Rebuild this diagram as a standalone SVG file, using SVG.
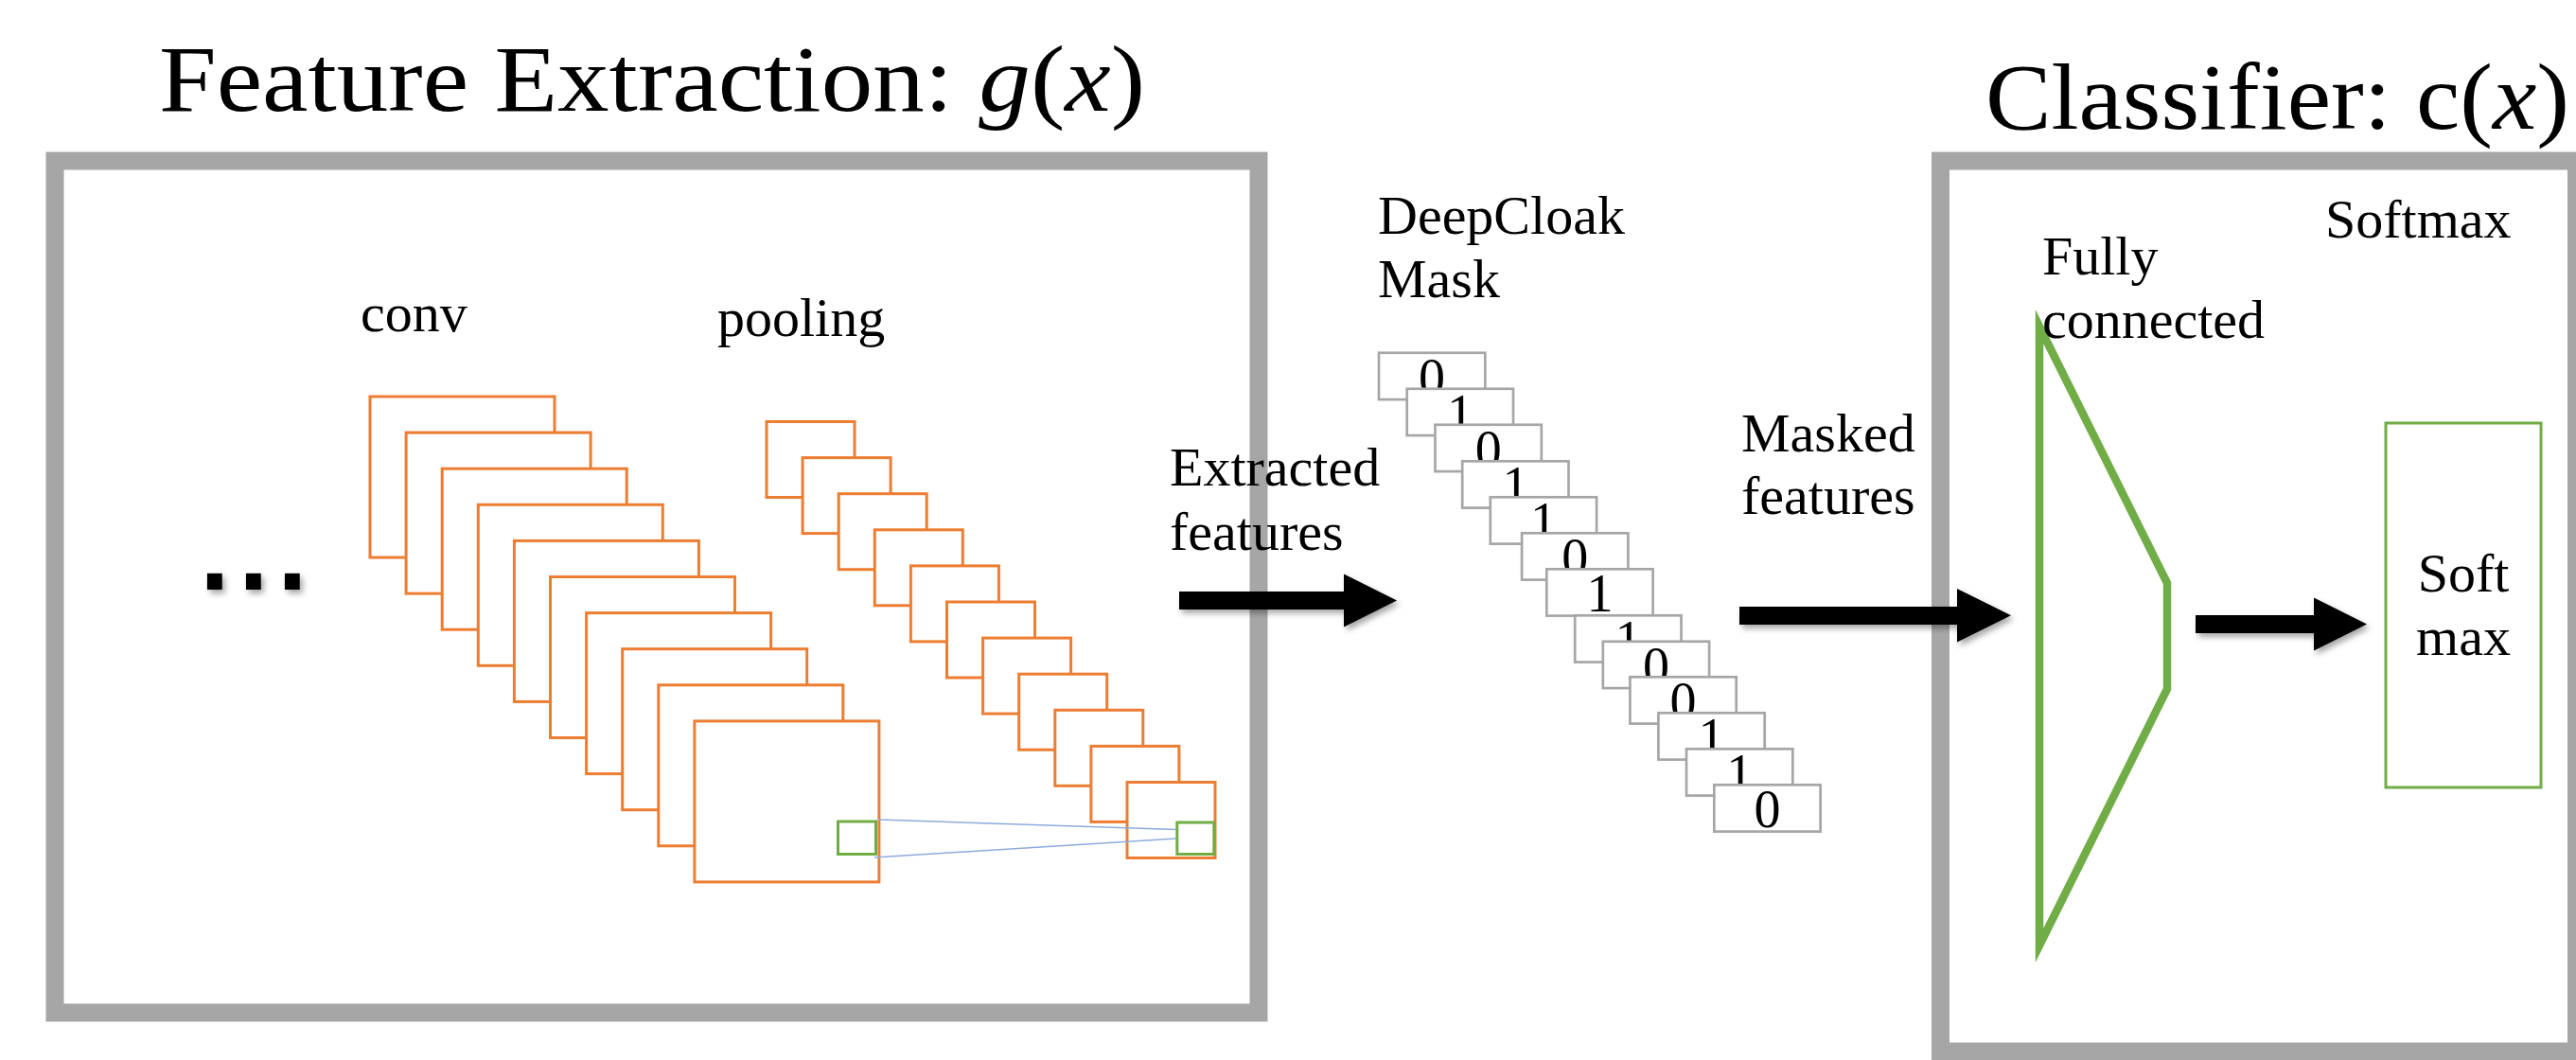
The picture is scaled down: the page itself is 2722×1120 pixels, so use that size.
<svg xmlns="http://www.w3.org/2000/svg" width="2722" height="1120" viewBox="0 0 2722 1120">
<defs>
<style>
.frame{fill:none;stroke:#A6A6A6;stroke-width:19}
.conv{fill:#fff;stroke:#ED7D31;stroke-width:3}
.pool{fill:#fff;stroke:#ED7D31;stroke-width:3}
.gsq{fill:none;stroke:#70AD47;stroke-width:3}
.mask{fill:#fff;stroke:#A6A6A6;stroke-width:2.7}
.lbl{font-family:"Liberation Serif","Times New Roman",serif;font-size:58px;fill:#000}
.dig{font-family:"Liberation Serif","Times New Roman",serif;font-size:56px;fill:#000;text-anchor:middle}
.title{font-family:"Liberation Serif","Times New Roman",serif;font-size:100px;fill:#000}
.arrow{fill:#000;filter:url(#sh)}
.link{stroke:#8FAADC;stroke-width:1.5;fill:none}
</style>
<filter id="sh" x="-20%" y="-50%" width="140%" height="200%">
<feDropShadow dx="3" dy="4" stdDeviation="3" flood-color="#000" flood-opacity="0.35"/>
</filter>
</defs>
<rect width="2722" height="1120" fill="#fff"/>

<g id="feature-extraction">
<text class="title" x="168" y="117" textLength="1042" lengthAdjust="spacingAndGlyphs">Feature Extraction: <tspan font-style="italic">g</tspan>(<tspan font-style="italic">x</tspan>)</text>
<rect class="frame" x="58" y="170" width="1272" height="900"/>
<text x="209.7" y="623" font-family="DejaVu Sans, sans-serif" font-weight="bold" font-size="90" letter-spacing="6.8" filter="url(#sh)">...</text>
</g>

<g id="conv-stack">
<text class="lbl" x="381" y="350">conv</text>
<rect class="conv" x="391" y="419" width="195" height="170"/>
<rect class="conv" x="429.1" y="457.1" width="195" height="170"/>
<rect class="conv" x="467.2" y="495.2" width="195" height="170"/>
<rect class="conv" x="505.3" y="533.3" width="195" height="170"/>
<rect class="conv" x="543.4" y="571.4" width="195" height="170"/>
<rect class="conv" x="581.5" y="609.5" width="195" height="170"/>
<rect class="conv" x="619.6" y="647.6" width="195" height="170"/>
<rect class="conv" x="657.7" y="685.7" width="195" height="170"/>
<rect class="conv" x="695.8" y="723.8" width="195" height="170"/>
<rect class="conv" x="733.9" y="761.9" width="195" height="170"/>
<rect class="gsq" x="885.5" y="868" width="40" height="34.5"/>
</g>

<g id="pooling-stack">
<text class="lbl" x="758" y="355">pooling</text>
<rect class="pool" x="810" y="445.5" width="93" height="80"/>
<rect class="pool" x="848.1" y="483.6" width="93" height="80"/>
<rect class="pool" x="886.2" y="521.7" width="93" height="80"/>
<rect class="pool" x="924.3" y="559.8" width="93" height="80"/>
<rect class="pool" x="962.4" y="597.9" width="93" height="80"/>
<rect class="pool" x="1000.5" y="636" width="93" height="80"/>
<rect class="pool" x="1038.6" y="674.1" width="93" height="80"/>
<rect class="pool" x="1076.7" y="712.2" width="93" height="80"/>
<rect class="pool" x="1114.8" y="750.3" width="93" height="80"/>
<rect class="pool" x="1152.9" y="788.4" width="93" height="80"/>
<rect class="pool" x="1191" y="826.5" width="93" height="80"/>
<rect class="gsq" x="1243.8" y="869" width="39" height="33.5"/>
</g>

<g id="deepcloak-mask">
<text class="lbl" x="1456" y="247">DeepCloak</text>
<text class="lbl" x="1456" y="314">Mask</text>
<rect class="mask" x="1457" y="372.8" width="112.3" height="49.3"/><text class="dig" x="1513" y="417.5">0</text>
<rect class="mask" x="1486.7" y="410.8" width="112.3" height="49.3"/><text class="dig" x="1542.9" y="455.5">1</text>
<rect class="mask" x="1516.5" y="448.8" width="112.3" height="49.3"/><text class="dig" x="1572.7" y="493.5">0</text>
<rect class="mask" x="1545.2" y="487.3" width="112.3" height="49.3"/><text class="dig" x="1601.4" y="532">1</text>
<rect class="mask" x="1574.8" y="525.3" width="112.3" height="49.3"/><text class="dig" x="1631" y="570">1</text>
<rect class="mask" x="1608.1" y="563.3" width="112.3" height="49.3"/><text class="dig" x="1664.3" y="608">0</text>
<rect class="mask" x="1634.3" y="601.3" width="112.3" height="49.3"/><text class="dig" x="1690.5" y="646">1</text>
<rect class="mask" x="1664.2" y="650.3" width="112.3" height="49.3"/><text class="dig" x="1720.4" y="695">1</text>
<rect class="mask" x="1693.8" y="677.8" width="112.3" height="49.3"/><text class="dig" x="1750" y="722.5">0</text>
<rect class="mask" x="1722.4" y="715.3" width="112.3" height="49.3"/><text class="dig" x="1778.6" y="760">0</text>
<rect class="mask" x="1752.4" y="753.3" width="112.3" height="49.3"/><text class="dig" x="1808.6" y="798">1</text>
<rect class="mask" x="1782" y="791.3" width="112.3" height="49.3"/><text class="dig" x="1838.2" y="836">1</text>
<rect class="mask" x="1811.3" y="829.3" width="112.3" height="49.3"/><text class="dig" x="1867.5" y="874">0</text>
</g>

<g id="classifier">
<text class="title" x="2098" y="136" textLength="617" lengthAdjust="spacingAndGlyphs">Classifier: c(<tspan font-style="italic">x</tspan>)</text>
<rect class="frame" x="2050.5" y="170" width="672" height="941"/>
</g>

<g id="fully-connected">
<polygon points="2155,345 2290,616 2290,728 2155,999" fill="none" stroke="#70AD47" stroke-width="8.5" stroke-miterlimit="10"/>
<text class="lbl" x="2158" y="290">Fully</text>
<text class="lbl" x="2158" y="357">connected</text>
</g>

<g id="softmax">
<text class="lbl" x="2457" y="251">Softmax</text>
<rect x="2521" y="447" width="164" height="385" fill="none" stroke="#70AD47" stroke-width="3"/>
<text class="lbl" x="2603" y="625" text-anchor="middle">Soft</text>
<text class="lbl" x="2603" y="692" text-anchor="middle">max</text>
</g>

<g id="connectors">
<line class="link" x1="928" y1="866" x2="1243" y2="876.5"/>
<line class="link" x1="924" y1="906" x2="1243" y2="886"/>
<polygon class="arrow" points="1246,625 1420,625 1420,606.5 1476,634.5 1420,662.5 1420,644 1246,644"/>
<polygon class="arrow" points="1838,641 2068,641 2068,622 2125,650.3 2068,678.6 2068,660 1838,660"/>
<polygon class="arrow" points="2320,650 2445,650 2445,631.5 2501,659.5 2445,687.5 2445,669 2320,669"/>
</g>

<g id="edge-labels">
<text class="lbl" x="1236" y="513">Extracted</text>
<text class="lbl" x="1236" y="581">features</text>
<text class="lbl" x="1840" y="477">Masked</text>
<text class="lbl" x="1840" y="543">features</text>
</g>
</svg>
